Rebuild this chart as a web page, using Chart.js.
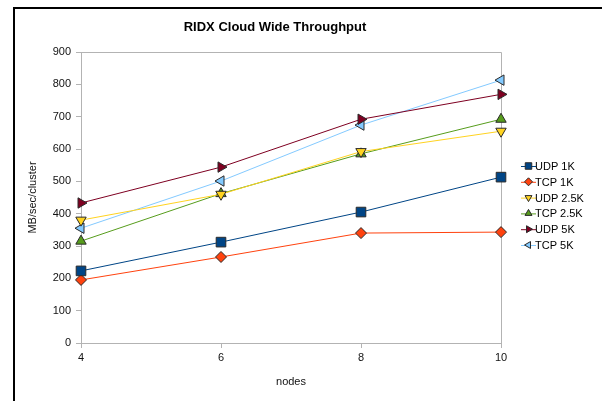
<!DOCTYPE html>
<html>
<head>
<meta charset="utf-8">
<style>
  html, body { margin: 0; padding: 0; background: #ffffff; }
  #wrap { position: relative; width: 602px; height: 401px; }
</style>
<script src="https://cdn.jsdelivr.net/npm/chart.js@4/dist/chart.umd.min.js"></script>
</head>
<body>
<div id="wrap"><canvas id="chart" width="602" height="401"></canvas></div>
<script>
// Cluster size (nodes) on the x axis
const nodes = [4, 6, 8, 10];

// Throughput per cluster in MB/sec for each transport / message size
const udp1k  = [223, 312, 405, 513];
const tcp1k  = [195, 266, 340, 343];
const udp25k = [380, 460, 592, 655];
const tcp25k = [315, 462, 585, 692];
const udp5k  = [433, 544, 692, 769];
const tcp5k  = [355, 501, 674, 813];

const yTicks = [0, 100, 200, 300, 400, 500, 600, 700, 800, 900];

const FONT = 'Liberation Sans, Arial, sans-serif';

function series(label, values, color, style, rotation, radius) {
  return {
    label: label,
    data: nodes.map((n, i) => ({ x: n, y: values[i] })),
    borderColor: color,
    backgroundColor: color,
    borderWidth: 1,
    pointStyle: style,
    rotation: rotation,
    pointRadius: radius,
    pointHoverRadius: radius,
    pointBorderColor: '#2a2a2a',
    pointBorderWidth: 1,
    pointBackgroundColor: color,
    tension: 0,
    clip: false
  };
}

const datasets = [
  series('UDP 1K',   udp1k,  '#004586', 'rect',     0,   6.8),
  series('TCP 1K',   tcp1k,  '#ff420e', 'rectRot',  0,   5.5),
  series('UDP 2.5K', udp25k, '#ffd320', 'triangle', 180, 6),
  series('TCP 2.5K', tcp25k, '#579d1c', 'triangle', 0,   6),
  series('UDP 5K',   udp5k,  '#7e0021', 'triangle', 90,  6),
  series('TCP 5K',   tcp5k,  '#83caff', 'triangle', 270, 6)
];

// Outer frame, plot border, title and legend
const decorations = {
  id: 'decorations',
  beforeDraw(chart) {
    const ctx = chart.ctx;
    ctx.save();
    ctx.fillStyle = '#ffffff';
    ctx.fillRect(0, 0, chart.width, chart.height);
    ctx.fillStyle = '#000000';
    ctx.fillRect(13, 7, 2, chart.height - 7);
    ctx.fillRect(13, 7, chart.width - 13, 2);
    ctx.restore();
  },
  beforeDatasetsDraw(chart) {
    const a = chart.chartArea;
    const ctx = chart.ctx;
    ctx.save();
    ctx.strokeStyle = '#b3b3b3';
    ctx.lineWidth = 1;
    ctx.beginPath();
    ctx.moveTo(a.left, a.top + 0.5);
    ctx.lineTo(a.right + 0.5, a.top + 0.5);
    ctx.lineTo(a.right + 0.5, a.bottom);
    ctx.stroke();
    ctx.restore();
  },
  afterDraw(chart) {
    const ctx = chart.ctx;
    ctx.save();
    ctx.fillStyle = '#000000';
    ctx.font = 'bold 13px ' + FONT;
    ctx.textAlign = 'center';
    ctx.textBaseline = 'middle';
    ctx.fillText('RIDX Cloud Wide Throughput', 275, 27);

    ctx.font = '11px ' + FONT;
    ctx.textAlign = 'left';
    chart.data.datasets.forEach((ds, i) => {
      const y = 166 + i * 15.8;
      ctx.strokeStyle = ds.borderColor;
      ctx.lineWidth = 1;
      ctx.beginPath();
      ctx.moveTo(521, y + 0.5);
      ctx.lineTo(536, y + 0.5);
      ctx.stroke();
      ctx.fillStyle = ds.backgroundColor;
      ctx.strokeStyle = '#2a2a2a';
      Chart.helpers.drawPoint(ctx, {
        pointStyle: ds.pointStyle,
        rotation: ds.rotation,
        radius: ds.pointStyle === 'rect' ? 4.6 : 4,
        borderWidth: 1
      }, 528.5, y);
      ctx.fillStyle = '#000000';
      ctx.fillText(ds.label, 535, y + 1);
    });
    ctx.restore();
  }
};

new Chart(document.getElementById('chart'), {
  type: 'line',
  data: { datasets: datasets },
  plugins: [decorations],
  options: {
    responsive: false,
    animation: false,
    events: [],
    layout: { padding: { top: 52, right: 101, left: 0, bottom: 0 } },
    plugins: {
      legend: { display: false },
      title: { display: false },
      tooltip: { enabled: false }
    },
    scales: {
      x: {
        type: 'linear',
        min: nodes[0],
        max: nodes[nodes.length - 1],
        afterBuildTicks(scale) { scale.ticks = nodes.map(v => ({ value: v })); },
        afterFit(scale) { scale.height = 58; },
        grid: { drawOnChartArea: false, drawTicks: true, tickLength: 5, color: '#b3b3b3' },
        border: { color: '#b3b3b3', width: 1 },
        ticks: { color: '#111111', font: { family: FONT, size: 11 }, padding: 3, maxRotation: 0 },
        title: { display: true, text: 'nodes', color: '#111111', font: { family: FONT, size: 11 }, padding: { top: 0, bottom: 12 } }
      },
      y: {
        type: 'linear',
        min: yTicks[0],
        max: yTicks[yTicks.length - 1],
        afterBuildTicks(scale) { scale.ticks = yTicks.map(v => ({ value: v })); },
        afterFit(scale) { scale.width = 81; },
        grid: { drawOnChartArea: false, drawTicks: true, tickLength: 5, color: '#b3b3b3' },
        border: { color: '#b3b3b3', width: 1 },
        ticks: { color: '#111111', font: { family: FONT, size: 11 }, padding: 5 },
        title: { display: true, text: 'MB/sec/cluster', color: '#111111', font: { family: FONT, size: 11 }, padding: { top: 26, bottom: 0 } }
      }
    }
  }
});
</script>
</body>
</html>
